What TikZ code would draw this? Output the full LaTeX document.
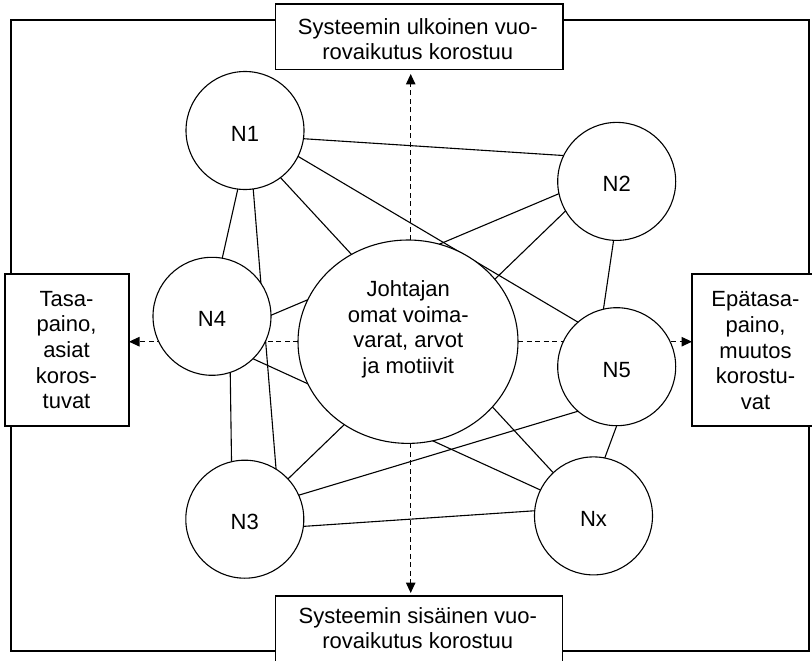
\documentclass[tikz,border=0pt]{standalone}
\usepackage{fontspec}
\setmainfont{Liberation Sans}
\usetikzlibrary{arrows.meta,backgrounds,shapes.geometric}
\begin{document}
\begin{tikzpicture}[x=1pt,y=-1pt,
  every node/.style={font=\fontsize{22}{25.6}\selectfont, inner sep=0pt, outer sep=0pt},
  wire/.style={line width=1.1pt},
  member/.style={circle, draw, line width=1.1pt, fill=white, minimum size=118pt,
                 text height=21pt, text depth=0pt},
  hub/.style={ellipse, draw, line width=1.1pt, fill=white,
              minimum width=220pt, minimum height=203.4pt},
  panel/.style={rectangle, draw, line width=1.1pt, fill=white},
  caption/.style={align=center},
  flow/.style={line width=1.1pt, dash pattern=on 5pt off 3.5pt,
               -{Triangle[length=10.5pt,width=9.5pt]}},
]
\useasboundingbox (0,0) rectangle (812,661);

% boxes on the frame
\node[panel, minimum width=287.7pt, minimum height=65.3pt] (T) at (419.15,36.65) {};
\node[panel, minimum width=287pt,   minimum height=66pt]   (B) at (419.2,629) {};
\node[panel, minimum width=124pt,   minimum height=152pt]  (L) at (67,350) {};
\node[panel, minimum width=129pt,   minimum height=152pt]  (R) at (756.5,350) {};

\node[caption] (Ttext) at (417.8,39.2)  {Systeemin ulkoinen vuo-\\rovaikutus korostuu};
\node[caption] (Btext) at (417.8,628.2) {Systeemin sisäinen vuo-\\rovaikutus korostuu};
\node[caption] (Ltext) at (66.5,350)    {Tasa-\\paino,\\asiat\\koros-\\tuvat};
\node[caption] (Rtext) at (755.5,350.6) {Epätasa-\\paino,\\muutos\\korostu-\\vat};

% network members and the leader in the middle
\node[member] (N1) at (245,130.5)   {N1};
\node[member] (N2) at (616.7,181.4) {N2};
\node[member] (N4) at (212,316.3)   {N4};
\node[member] (N5) at (616.7,366.7) {N5};
\node[member] (N3) at (244.8,519.2) {N3};
\node[member] (Nx) at (593.5,515.9) {Nx};
\node[hub] (C) at (408,341.7) {};
\node[caption] (Ctext) at (408.3,329.5) {Johtajan\\omat voima-\\varat, arvot\\ja motiivit};

\coordinate (upA) at ([xshift=2.7pt]C.north);
\coordinate (dnA) at ([xshift=2.7pt]C.south);

\begin{scope}[on background layer]
  \fill[white] (0,0) rectangle (812,661);
  \draw[wire] (11,20) rectangle (809,651);

  % links between members
  \draw[wire] (N1.-8.5)   -- (N2.154.4);
  \draw[wire] (N1.-26.3)  -- (N5.131.3);
  \draw[wire] (N1.-53.4)  -- (Nx.133.5);
  \draw[wire] (N1.-97.8)  -- (N4.80.6);
  \draw[wire] (N1.-82.3)  -- (N3.58.9);
  \draw[wire] (N2.-168.7) -- (N4.1);
  \draw[wire] (N2.-150.1) -- (N3.43.8);
  \draw[wire] (N2.-93.3)  -- (N5.103.2);
  \draw[wire] (N4.-46)    -- (Nx.154.5);
  \draw[wire] (N4.-72.4)  -- (N3.103.9);
  \draw[wire] (N3.24.7)   -- (N5.-131.8);
  \draw[wire] (N3.-7.8)   -- (Nx.175.8);
  \draw[wire] (N5.-90.7)  -- (Nx.79.7);

  % directions of emphasis
  \draw[flow, shorten >=4.7pt] (upA) -- (upA |- T.south);
  \draw[flow, shorten >=3pt]   (dnA) -- (dnA |- B.north);
  \draw[flow] (C.west) -- (C.west -| L.east);
  \draw[flow] (C.east) -- (C.east -| R.west);
\end{scope}
\end{tikzpicture}
\end{document}
